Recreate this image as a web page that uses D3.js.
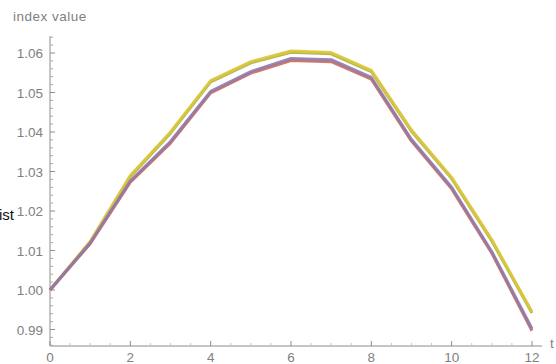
<!DOCTYPE html>
<html>
<head>
<meta charset="utf-8">
<script src="https://cdn.jsdelivr.net/npm/d3@7"></script>
<style>
  html, body { margin: 0; padding: 0; background: #fff; overflow: hidden; }
  svg { display: block; }
  text { font-family: "Liberation Sans", Arial, sans-serif; }
</style>
</head>
<body>
<svg id="chart" width="556" height="364"></svg>
<script>
// time steps
const steps = [0, 1, 2, 3, 4, 5, 6, 7, 8, 9, 10, 11, 12];

// index values per series
const seriesOrange = [1.0000, 1.0123, 1.0290, 1.0400, 1.0530, 1.0578, 1.0605, 1.0601, 1.0556, 1.0405, 1.0285, 1.0127, 0.9945];
const seriesGreen  = [1.0000, 1.0121, 1.0287, 1.0397, 1.0527, 1.0575, 1.0602, 1.0598, 1.0553, 1.0402, 1.0282, 1.0124, 0.9942];
const seriesBlue   = [1.0000, 1.0119, 1.0276, 1.0376, 1.0503, 1.0553, 1.0586, 1.0583, 1.0538, 1.0381, 1.0260, 1.0097, 0.9902];
const seriesRed    = [1.0000, 1.0117, 1.0273, 1.0372, 1.0499, 1.0549, 1.0581, 1.0578, 1.0534, 1.0377, 1.0256, 1.0093, 0.9897];

const xTicks = [0, 2, 4, 6, 8, 10, 12];
const yTicks = [0.99, 1.00, 1.01, 1.02, 1.03, 1.04, 1.05, 1.06];

const svg = d3.select("#chart");

const x = d3.scaleLinear().domain([0, 12]).range([50, 532]);
const y = d3.scaleLinear().domain([1.00, 1.06]).range([290, 53]);

const axisY0 = 346;            // pixel row of the horizontal axis
const axisX0 = x(0);           // pixel column of the vertical axis
const axisColor = "#8c8c8c";
const labelColor = "#808080";

// horizontal axis
const xAxis = svg.append("g");
xAxis.append("line")
  .attr("x1", axisX0).attr("x2", x(12.25))
  .attr("y1", axisY0).attr("y2", axisY0)
  .attr("stroke", axisColor).attr("stroke-width", 1);
const xMinor = d3.range(0, 12.01, 0.5).filter(v => v % 2 !== 0);
xAxis.selectAll(".xminor").data(xMinor).join("line")
  .attr("x1", d => x(d)).attr("x2", d => x(d))
  .attr("y1", axisY0).attr("y2", axisY0 - 3)
  .attr("stroke", "#c4c4c4").attr("stroke-width", 1);
xAxis.selectAll(".xmajor").data(xTicks).join("line")
  .attr("x1", d => x(d)).attr("x2", d => x(d))
  .attr("y1", axisY0).attr("y2", axisY0 - 5)
  .attr("stroke", axisColor).attr("stroke-width", 1);
xAxis.selectAll(".xlab").data(xTicks).join("text")
  .attr("x", d => x(d)).attr("y", 362)
  .attr("text-anchor", "middle")
  .attr("font-size", 13.5).attr("fill", labelColor)
  .text(d => d3.format("d")(d));

// vertical axis
const yAxis = svg.append("g");
yAxis.append("line")
  .attr("x1", axisX0).attr("x2", axisX0)
  .attr("y1", axisY0).attr("y2", 36)
  .attr("stroke", axisColor).attr("stroke-width", 1);
const yMinor = d3.range(0.986, 1.0642, 0.002).filter(v => Math.abs(Math.round(v * 100) - v * 100) > 1e-6);
yAxis.selectAll(".yminor").data(yMinor).join("line")
  .attr("x1", axisX0).attr("x2", axisX0 + 3)
  .attr("y1", d => y(d)).attr("y2", d => y(d))
  .attr("stroke", "#a8a8a8").attr("stroke-width", 1);
yAxis.selectAll(".ymajor").data(yTicks).join("line")
  .attr("x1", axisX0).attr("x2", axisX0 + 5)
  .attr("y1", d => y(d)).attr("y2", d => y(d))
  .attr("stroke", axisColor).attr("stroke-width", 1);
yAxis.selectAll(".ylab").data(yTicks).join("text")
  .attr("x", 43).attr("y", d => y(d) + 5)
  .attr("text-anchor", "end")
  .attr("font-size", 13.5).attr("fill", labelColor)
  .text(d => d3.format(".2f")(d));

// axis titles
svg.append("text")
  .attr("x", 13).attr("y", 21)
  .attr("font-size", 13.5).attr("letter-spacing", 0.5).attr("fill", labelColor)
  .text("index value");
svg.append("text")
  .attr("x", 550).attr("y", 348)
  .attr("font-size", 13.5).attr("fill", labelColor)
  .text("t");
svg.append("text")
  .attr("x", -1).attr("y", 220)
  .attr("font-size", 15).attr("fill", "#111")
  .text("ist");

// series lines
const line = d3.line()
  .x((d, i) => x(steps[i]))
  .y(d => y(d));

const series = [
  { values: seriesGreen,  color: "#a6b13e" },
  { values: seriesOrange, color: "#dcc63c" },
  { values: seriesRed,    color: "#c96a58" },
  { values: seriesBlue,   color: "#9079ae" }
];

svg.append("g").selectAll("path").data(series).join("path")
  .attr("d", d => line(d.values))
  .attr("fill", "none")
  .attr("stroke", d => d.color)
  .attr("stroke-width", 3)
  .attr("stroke-linejoin", "round")
  .attr("stroke-opacity", 0.9);
</script>
</body>
</html>
